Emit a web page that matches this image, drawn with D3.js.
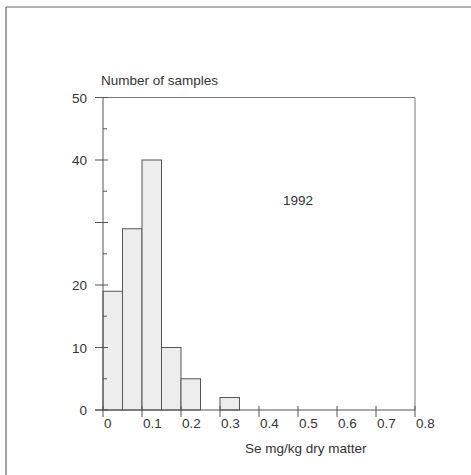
<!DOCTYPE html>
<html>
<head>
<meta charset="utf-8">
<script src="https://cdn.jsdelivr.net/npm/d3@7"></script>
<style>
	body { margin: 0; background: #fff; }
	text { font-family: "Liberation Sans", Arial, sans-serif; fill: #333; }
</style>
</head>
<body>
<div class="chart"></div>
<script>
// histogram bins (Se mg/kg dry matter), width 0.05
const binStarts = [0, 0.05, 0.1, 0.15, 0.2, 0.25, 0.3];
const counts = [19, 29, 40, 10, 5, 0, 2];
const xTicks = [0, 0.1, 0.2, 0.3, 0.4, 0.5, 0.6, 0.7, 0.8];
const yTicks = [0, 10, 20, 30, 40, 50];
// the "30" label does not show in the original
const yLabels = [0, 10, 20, 40, 50];
const yMinor = [5, 15, 25, 35, 45];
const binWidth = 0.05;

function renderHistogram() {
	const width = 471;
	const height = 475;
	const fs = '13.5px';
	const svg = d3.select('.chart')
				.append('svg')
				.attr('width', width)
				.attr('height', height);

	// page frame (only top and left edges show in the scan)
	svg.append('line').attr('x1', 6).attr('y1', 7).attr('x2', 471).attr('y2', 7)
		.attr('stroke', '#666').attr('stroke-width', 1.2);
	svg.append('line').attr('x1', 6).attr('y1', 7).attr('x2', 6).attr('y2', 475)
		.attr('stroke', '#666').attr('stroke-width', 1.2);

	const x = d3.scaleLinear().domain([0, 0.8]).range([103, 415]);
	const y = d3.scaleLinear().domain([0, 50]).range([410, 97.5]);

	// bars
	svg.selectAll('rect.bar')
		.data(binStarts.map((b, i) => ({b: b, n: counts[i]})).filter(d => d.n > 0))
		.enter()
		.append('rect')
		.attr('class', 'bar')
		.attr('x', d => x(d.b))
		.attr('y', d => y(d.n))
		.attr('width', d => x(d.b + binWidth) - x(d.b))
		.attr('height', d => y(0) - y(d.n))
		.attr('fill', '#ededed')
		.attr('stroke', '#555')
		.attr('stroke-width', 1);

	// plot box: top and right
	svg.append('line').attr('x1', x(0)).attr('y1', y(50)).attr('x2', x(0.8)).attr('y2', y(50))
		.attr('stroke', '#777');
	svg.append('line').attr('x1', x(0.8)).attr('y1', y(50)).attr('x2', x(0.8)).attr('y2', y(0))
		.attr('stroke', '#777');

	// y axis
	svg.append('line').attr('x1', x(0)).attr('y1', y(50)).attr('x2', x(0)).attr('y2', y(0))
		.attr('stroke', '#555');
	svg.selectAll('line.ytick')
		.data(yTicks)
		.enter()
		.append('line')
		.attr('x1', x(0) - 8)
		.attr('x2', x(0) + 5)
		.attr('y1', d => y(d))
		.attr('y2', d => y(d))
		.attr('stroke', '#555');
	svg.selectAll('line.yminor')
		.data(yMinor)
		.enter()
		.append('line')
		.attr('x1', x(0))
		.attr('x2', x(0) + 4)
		.attr('y1', d => y(d))
		.attr('y2', d => y(d))
		.attr('stroke', '#555');
	svg.selectAll('text.ylab')
		.data(yLabels)
		.enter()
		.append('text')
		.text(d => d)
		.attr('x', 87)
		.attr('y', d => y(d) + 5)
		.attr('text-anchor', 'end')
		.attr('font-size', fs);

	// x axis
	svg.append('line').attr('x1', x(0) - 8).attr('y1', y(0)).attr('x2', x(0.8)).attr('y2', y(0))
		.attr('stroke', '#555');
	svg.selectAll('line.xtick')
		.data(xTicks)
		.enter()
		.append('line')
		.attr('x1', d => x(d))
		.attr('x2', d => x(d))
		.attr('y1', y(0) - 4)
		.attr('y2', y(0) + 7)
		.attr('stroke', '#555');
	svg.selectAll('text.xlab')
		.data(xTicks)
		.enter()
		.append('text')
		.text(d => d)
		.attr('x', d => x(d) + 1)
		.attr('y', 428)
		.attr('font-size', fs);

	// titles
	svg.append('text').text('Number of samples')
		.attr('x', 101).attr('y', 85).attr('font-size', fs);
	svg.append('text').text('Se mg/kg dry matter')
		.attr('x', 245).attr('y', 453).attr('font-size', fs);
	svg.append('text').text('1992')
		.attr('x', 283).attr('y', 205).attr('font-size', fs);
}

renderHistogram();
</script>
</body>
</html>
